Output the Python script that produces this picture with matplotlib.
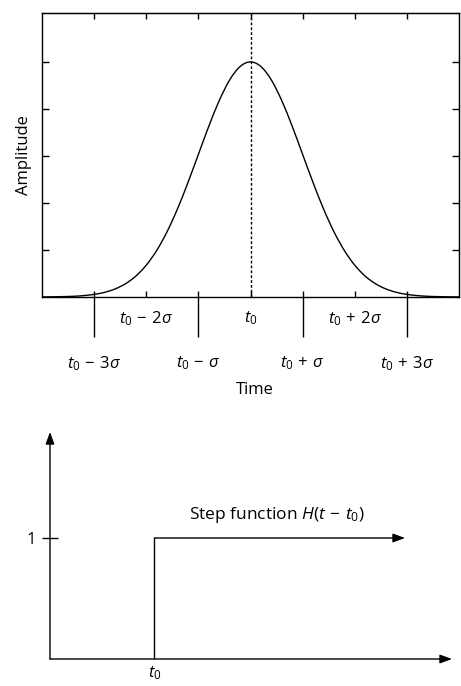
import matplotlib
matplotlib.use("Agg")
import matplotlib.pyplot as plt
from matplotlib.ticker import FixedLocator, FixedFormatter
from matplotlib.path import Path
from matplotlib.patches import PathPatch

plt.rcParams['font.family'] = ['Open Sans', 'DejaVu Sans']
plt.rcParams['mathtext.fontset'] = 'custom'
plt.rcParams['mathtext.rm'] = 'Open Sans'
plt.rcParams['mathtext.it'] = 'Open Sans:italic'
plt.rcParams['mathtext.bf'] = 'Open Sans:bold'

# pulso gaussiano (tempo em unidades de sigma, amplitude em divisoes)
tempo = [-4.0, -3.8, -3.6, -3.4, -3.2, -3.0, -2.8, -2.6, -2.4, -2.2, -2.0,
         -1.8, -1.6, -1.4, -1.2, -1.0, -0.8, -0.6, -0.4, -0.2, 0.0,
         0.2, 0.4, 0.6, 0.8, 1.0, 1.2, 1.4, 1.6, 1.8, 2.0,
         2.2, 2.4, 2.6, 2.8, 3.0, 3.2, 3.4, 3.6, 3.8, 4.0]
amplitude = [0.002, 0.004, 0.008, 0.015, 0.030, 0.056, 0.099, 0.170, 0.281, 0.444, 0.677,
             0.989, 1.390, 1.876, 2.434, 3.033, 3.631, 4.176, 4.616, 4.901, 5.000,
             4.901, 4.616, 4.176, 3.631, 3.033, 2.434, 1.876, 1.390, 0.989, 0.677,
             0.444, 0.281, 0.170, 0.099, 0.056, 0.030, 0.015, 0.008, 0.004, 0.002]

pos_impares = [-3, -1, 1, 3]
rotulos_impares = [r'$t_0\,-\,3\sigma$', r'$t_0\,-\,\sigma$',
                   r'$t_0\,+\,\sigma$', r'$t_0\,+\,3\sigma$']
pos_todas = [-3, -2, -1, 0, 1, 2, 3]
rotulos_pares = ['', r'$t_0\,-\,2\sigma$', '', r'$t_0$', '', r'$t_0\,+\,2\sigma$', '']
pos_amplitude = [1, 2, 3, 4, 5]

# funcao degrau
degrau_t0 = 1.0
degrau_fim = 3.40
degrau_nivel = 1.0


def curva_suave(xs, ys):
    # traca os pontos lidos com curvas de bezier (catmull-rom) em vez de segmentos
    pts = list(zip(xs, ys))
    verts = [pts[0]]
    codes = [Path.MOVETO]
    n = len(pts)
    for i in range(n - 1):
        p0 = pts[max(i - 1, 0)]
        p1 = pts[i]
        p2 = pts[i + 1]
        p3 = pts[min(i + 2, n - 1)]
        c1 = (p1[0] + (p2[0] - p0[0]) / 6, p1[1] + (p2[1] - p0[1]) / 6)
        c2 = (p2[0] - (p3[0] - p1[0]) / 6, p2[1] - (p3[1] - p1[1]) / 6)
        verts += [c1, c2, p2]
        codes += [Path.CURVE4] * 3
    return Path(verts, codes)


fig = plt.figure(figsize=(4.61, 6.86), dpi=100)

# ---- painel de cima: gaussiana ----
ax1 = fig.add_axes([42 / 461, 1 - 297 / 686, 417 / 461, 284 / 686])
ax1.add_patch(PathPatch(curva_suave(tempo, amplitude), fill=False, edgecolor='black', lw=1.0))
ax1.axvline(0, color='black', lw=1.0, ls=(0, (2, 1.5)))
ax1.set_xlim(-4, 4)
ax1.set_ylim(0, 6.04)
for s in ax1.spines.values():
    s.set_linewidth(1.0)

ax1.set_xticks(pos_impares, labels=rotulos_impares)
ax1.xaxis.set_minor_locator(FixedLocator(pos_todas))
ax1.xaxis.set_minor_formatter(FixedFormatter(rotulos_pares))
ax1.xaxis.remove_overlapping_locs = False
ax1.tick_params(axis='x', which='major', direction='out', length=29, width=1.0,
                pad=12, labelsize=12)
ax1.tick_params(axis='x', which='minor', direction='in', length=4.5, width=1.0,
                pad=9, labelsize=12)
ax1.set_yticks(pos_amplitude, labels=[])
ax1.tick_params(axis='y', direction='in', length=5, width=1.0)

topo = ax1.secondary_xaxis('top')
topo.set_xticks(pos_todas)
topo.tick_params(direction='in', length=4, width=1.0, labeltop=False)
direita = ax1.secondary_yaxis('right')
direita.set_yticks(pos_amplitude)
direita.tick_params(direction='in', length=5, width=1.0, labelright=False)

ax1.set_ylabel('Amplitude', fontsize=12)
ax1.yaxis.set_label_coords(-0.024, 0.5)
ax1.set_xlabel('Time', fontsize=12)
ax1.xaxis.set_label_coords(0.51, -0.30)

# ---- painel de baixo: degrau ----
ax2 = fig.add_axes([50 / 461, 27 / 686, 402 / 461, 227 / 686])
ax2.set_xlim(0, 3.85)
ax2.set_ylim(0, 1.876)
for s in ax2.spines.values():
    s.set_visible(False)

seta = dict(arrowstyle='-|>,head_length=0.6,head_width=0.22', color='black',
            lw=1.0, mutation_scale=12, shrinkA=0, shrinkB=0)
ax2.annotate('', xy=(3.85, 0), xytext=(0, 0), arrowprops=seta, annotation_clip=False)
ax2.annotate('', xy=(0, 1.876), xytext=(0, 0), arrowprops=seta, annotation_clip=False)
ax2.plot([degrau_t0, degrau_t0], [0, degrau_nivel], color='black', lw=1.0)
ax2.annotate('', xy=(degrau_fim, degrau_nivel), xytext=(degrau_t0, degrau_nivel),
             arrowprops=seta, annotation_clip=False)
ax2.text(1.33, 1.19, r'Step function $H(t\,-\,t_0)$', fontsize=12.5, ha='left', va='center')

ax2.set_yticks([degrau_nivel], labels=['1'])
ax2.tick_params(axis='y', direction='inout', length=11, width=1.0, pad=5, labelsize=12)
ax2.set_xticks([degrau_t0], labels=[r'$t_0$'])
ax2.tick_params(axis='x', length=0, pad=4, labelsize=12)

fig.savefig('out.png', dpi=100)
